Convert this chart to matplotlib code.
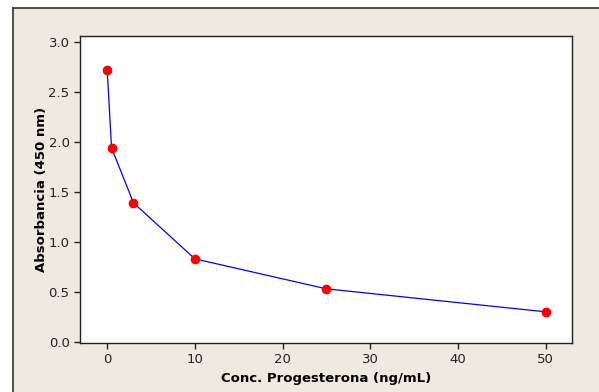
import matplotlib
matplotlib.use("Agg")
import matplotlib.pyplot as plt
from matplotlib.lines import Line2D

# data
conc = [0, 0.5, 3, 10, 25, 50]
absorb = [2.72, 1.94, 1.39, 0.83, 0.53, 0.30]
x_ticks = [0, 10, 20, 30, 40, 50]
y_ticks = [0.0, 0.5, 1.0, 1.5, 2.0, 2.5, 3.0]

bg = "#EEEAE0"

fig = plt.figure(figsize=(5.99, 3.92), dpi=100)
fig.patch.set_facecolor("white")

# beige panel with a dark border on the left and top
fig.patches.append(plt.Rectangle((13 / 599, 0), 1, 1 - 8 / 392, transform=fig.transFigure,
                                 facecolor=bg, edgecolor="none", zorder=-10))
fig.lines.append(Line2D([13 / 599, 13 / 599], [0, 1 - 8 / 392], transform=fig.transFigure,
                        color="#333333", lw=1.2, zorder=-5))
fig.lines.append(Line2D([13 / 599, 1], [1 - 8 / 392, 1 - 8 / 392], transform=fig.transFigure,
                        color="#333333", lw=1.2, zorder=-5))

ax = fig.add_axes([80 / 599, 1 - 343 / 392, 492 / 599, 307 / 392])
ax.set_zorder(1)
ax.set_facecolor("white")

ax.plot(conc, absorb, color="blue", lw=0.9, zorder=2)
ax.plot(conc, absorb, "o", color="red", ms=6, zorder=3)

ax.set_xlim(-3.1, 53)
ax.set_ylim(-0.012, 3.06)
ax.set_xticks(x_ticks)
ax.set_yticks(y_ticks)
ax.set_yticklabels([f"{v:.1f}" for v in y_ticks])

for s in ax.spines.values():
    s.set_color("#222222")
    s.set_linewidth(1.0)

ax.tick_params(direction="out", length=4, width=1, colors="#222222", labelsize=9.5)

ax.set_xlabel("Conc. Progesterona (ng/mL)", fontsize=9.5, fontweight="bold", labelpad=4)
ax.set_ylabel("Absorbancia (450 nm)", fontsize=9.5, fontweight="bold", labelpad=0)

fig.savefig("out.png", dpi=100, facecolor=fig.get_facecolor())
